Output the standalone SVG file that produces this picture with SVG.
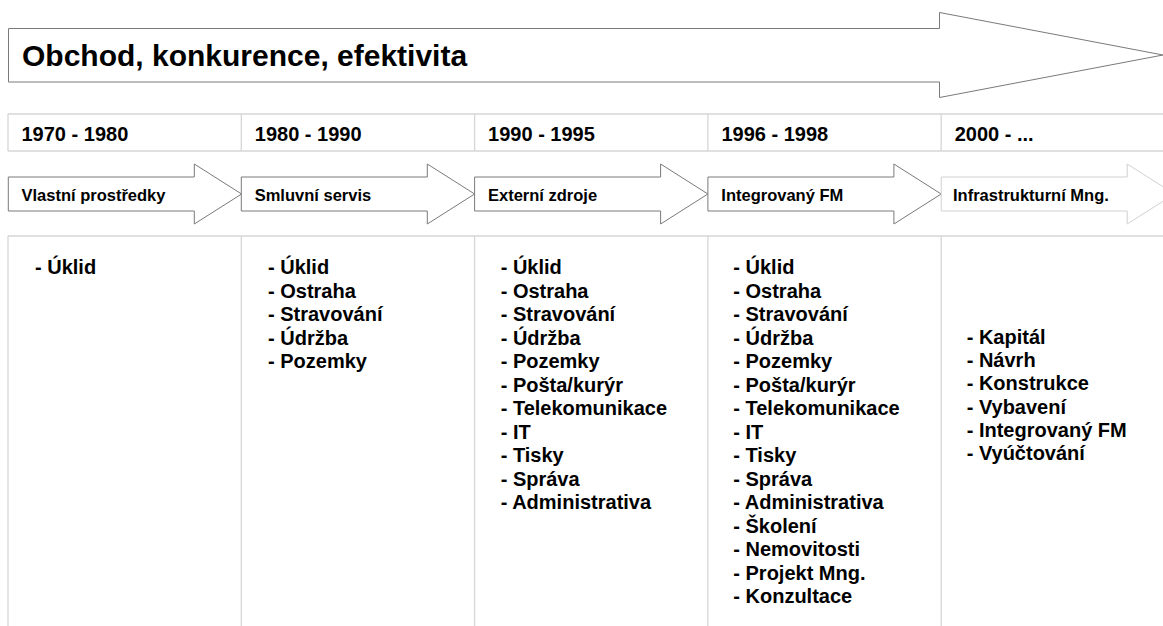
<svg xmlns="http://www.w3.org/2000/svg" width="1163" height="626" viewBox="0 0 1163 626">
  <style>
    text { font-family: "Liberation Sans", Arial, sans-serif; font-weight: bold; fill: #000; }
    .title { font-size: 30px; }
    .year { font-size: 20px; }
    .phase { font-size: 16.5px; }
    .item { font-size: 20px; }
    .grid { stroke: #d6d6d6; stroke-width: 1.3; fill: none; }
    .arrow { fill: #fff; stroke: #7a7a7a; stroke-width: 1; }
    .arrow-faded { fill: #fff; stroke: #d0d0d0; stroke-width: 1; }
  </style>
  <defs>
    <!-- phase arrow: 186 px body + 47 px head, centred on y=0 -->
    <path id="phaseArrow" d="M0,-17 H186 V-30 L233.3,0 L186,30 V17 H0 Z"/>
  </defs>

  <rect width="1163" height="626" fill="#fff"/>

  <!-- table rules -->
  <g id="grid" class="grid">
    <line x1="8" y1="114" x2="1163" y2="114"/>
    <line x1="8" y1="151" x2="1163" y2="151"/>
    <line x1="8" y1="114" x2="8" y2="151"/>
    <line x1="241.3" y1="114" x2="241.3" y2="151"/>
    <line x1="474.6" y1="114" x2="474.6" y2="151"/>
    <line x1="707.9" y1="114" x2="707.9" y2="151"/>
    <line x1="941.2" y1="114" x2="941.2" y2="151"/>
    <line x1="8" y1="236" x2="1163" y2="236"/>
    <line x1="8" y1="236" x2="8" y2="626"/>
    <line x1="241.3" y1="236" x2="241.3" y2="626"/>
    <line x1="474.6" y1="236" x2="474.6" y2="626"/>
    <line x1="707.9" y1="236" x2="707.9" y2="626"/>
    <line x1="941.2" y1="236" x2="941.2" y2="626"/>
  </g>

  <!-- overall trend arrow -->
  <g id="trend">
    <path class="arrow" d="M8.5,28.5 H939.5 V12.5 L1163,55 L939.5,97.5 V82 H8.5 Z"/>
    <text class="title" x="22" y="65.5">Obchod, konkurence, efektivita</text>
  </g>

  <!-- periods -->
  <g id="years">
    <text class="year" x="21.5" y="140.7">1970 - 1980</text>
    <text class="year" x="254.8" y="140.7">1980 - 1990</text>
    <text class="year" x="488.1" y="140.7">1990 - 1995</text>
    <text class="year" x="721.4" y="140.7">1996 - 1998</text>
    <text class="year" x="954.7" y="140.7">2000 - ...</text>
  </g>

  <!-- phases -->
  <g id="phase-1">
    <use href="#phaseArrow" class="arrow" x="8.3" y="194"/>
    <text class="phase" x="21.5" y="200.5">Vlastní prostředky</text>
  </g>
  <g id="phase-2">
    <use href="#phaseArrow" class="arrow" x="241.3" y="194"/>
    <text class="phase" x="254.7" y="200.5">Smluvní servis</text>
  </g>
  <g id="phase-3">
    <use href="#phaseArrow" class="arrow" x="474.6" y="194"/>
    <text class="phase" x="488" y="200.5">Externí zdroje</text>
  </g>
  <g id="phase-4">
    <use href="#phaseArrow" class="arrow" x="707.9" y="194"/>
    <text class="phase" x="721.3" y="200.5">Integrovaný FM</text>
  </g>
  <g id="phase-5">
    <use href="#phaseArrow" class="arrow-faded" x="941.2" y="194"/>
    <text class="phase" x="953" y="200.5">Infrastrukturní Mng.</text>
  </g>

  <!-- services per period -->
  <g id="list-1">
    <text class="item" x="35" y="274">- Úklid</text>
  </g>
  <g id="list-2">
    <text class="item">
      <tspan x="268" y="274">- Úklid</tspan>
      <tspan x="268" y="297.5">- Ostraha</tspan>
      <tspan x="268" y="321">- Stravování</tspan>
      <tspan x="268" y="344.5">- Údržba</tspan>
      <tspan x="268" y="368">- Pozemky</tspan>
    </text>
  </g>
  <g id="list-3">
    <text class="item">
      <tspan x="500.7" y="274">- Úklid</tspan>
      <tspan x="500.7" y="297.5">- Ostraha</tspan>
      <tspan x="500.7" y="321">- Stravování</tspan>
      <tspan x="500.7" y="344.5">- Údržba</tspan>
      <tspan x="500.7" y="368">- Pozemky</tspan>
      <tspan x="500.7" y="391.5">- Pošta/kurýr</tspan>
      <tspan x="500.7" y="415">- Telekomunikace</tspan>
      <tspan x="500.7" y="438.5">- IT</tspan>
      <tspan x="500.7" y="462">- Tisky</tspan>
      <tspan x="500.7" y="485.5">- Správa</tspan>
      <tspan x="500.7" y="509">- Administrativa</tspan>
    </text>
  </g>
  <g id="list-4">
    <text class="item">
      <tspan x="733.3" y="274">- Úklid</tspan>
      <tspan x="733.3" y="297.5">- Ostraha</tspan>
      <tspan x="733.3" y="321">- Stravování</tspan>
      <tspan x="733.3" y="344.5">- Údržba</tspan>
      <tspan x="733.3" y="368">- Pozemky</tspan>
      <tspan x="733.3" y="391.5">- Pošta/kurýr</tspan>
      <tspan x="733.3" y="415">- Telekomunikace</tspan>
      <tspan x="733.3" y="438.5">- IT</tspan>
      <tspan x="733.3" y="462">- Tisky</tspan>
      <tspan x="733.3" y="485.5">- Správa</tspan>
      <tspan x="733.3" y="509">- Administrativa</tspan>
      <tspan x="733.3" y="532.5">- Školení</tspan>
      <tspan x="733.3" y="556">- Nemovitosti</tspan>
      <tspan x="733.3" y="579.5">- Projekt Mng.</tspan>
      <tspan x="733.3" y="603">- Konzultace</tspan>
    </text>
  </g>
  <g id="list-5">
    <text class="item">
      <tspan x="966.7" y="344">- Kapitál</tspan>
      <tspan x="966.7" y="367.2">- Návrh</tspan>
      <tspan x="966.7" y="390.4">- Konstrukce</tspan>
      <tspan x="966.7" y="413.6">- Vybavení</tspan>
      <tspan x="966.7" y="436.8">- Integrovaný FM</tspan>
      <tspan x="966.7" y="460">- Vyúčtování</tspan>
    </text>
  </g>
</svg>
